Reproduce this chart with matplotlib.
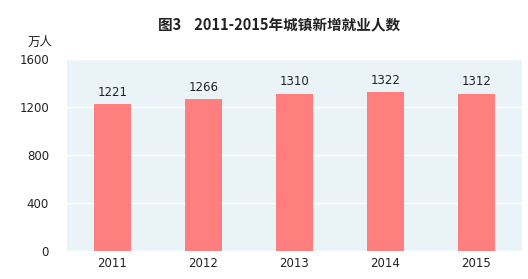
import matplotlib
matplotlib.use("Agg")
import matplotlib.pyplot as plt

plt.rcParams['font.family'] = ['Noto Sans CJK SC', 'DejaVu Sans']

years = ["2011", "2012", "2013", "2014", "2015"]
values = [1221, 1266, 1310, 1322, 1312]
yticks = [0, 400, 800, 1200, 1600]

fig = plt.figure(figsize=(5.28, 2.79), dpi=100)
ax = fig.add_axes([67/528, 1-251/279, (522-67)/528, (251-59)/279])
ax.set_facecolor('#EAF4F8')
x = range(len(years))
ax.bar(x, values, width=0.41, color='#FF7F7F', zorder=3)
for xi, v in zip(x, values):
    ax.text(xi, v + 45, str(v), ha='center', va='bottom', fontsize=8.5,
            family='DejaVu Sans', color='#222222')
ax.set_ylim(0, 1600)
ax.set_xlim(-0.5, 4.5)
ax.set_yticks(yticks)
ax.set_xticks(list(x))
ax.set_xticklabels(years, family='DejaVu Sans', fontsize=8.5)
ax.set_yticklabels([str(t) for t in yticks], family='DejaVu Sans', fontsize=8.5)
ax.tick_params(length=0, colors='#222222')
ax.tick_params(axis='y', pad=13)
ax.tick_params(axis='x', pad=4)
ax.grid(axis='y', color='white', linewidth=1, zorder=1)
for s in ax.spines.values():
    s.set_visible(False)

fig.text(279/528, 1-25/279, '图3    2011-2015年城镇新增就业人数', ha='center', va='center',
         fontsize=10.5, fontweight='bold', color='#222222')
fig.text(40/528, 1-42/279, '万人', ha='center', va='center', fontsize=9, color='#222222')

fig.savefig('out.png', dpi=100)
